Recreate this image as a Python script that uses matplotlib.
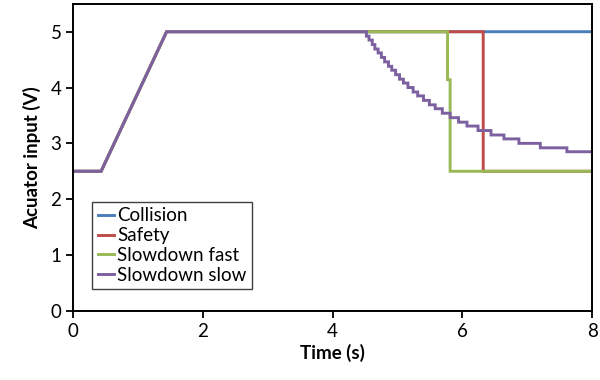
import matplotlib
matplotlib.use('Agg')
import matplotlib.pyplot as plt

# ── Data ───────────────────────────────────────
# common start: hold at 2.5 V, ramp up, hold at 5 V
ramp_t = [0.0, 0.43, 1.44]
ramp_v = [2.5, 2.5, 5.0]

collision_t = [4.48, 8.0]
collision_v = [5.0, 5.0]

safety_t = [4.48, 6.32, 6.32, 8.0]
safety_v = [5.0, 5.0, 2.5, 2.5]

fast_t = [4.48, 5.77, 5.77, 5.81, 5.81, 8.0]
fast_v = [5.0, 5.0, 4.14, 4.14, 2.5, 2.5]

# slowdown slow: staircase, time of each drop and the level after it
slow_step_t = [4.48, 4.52, 4.56, 4.61, 4.65, 4.70, 4.75, 4.80, 4.86, 4.91,
               4.97, 5.03, 5.09, 5.16, 5.24, 5.31, 5.40, 5.49, 5.58, 5.69,
               5.81, 5.94, 6.07, 6.24, 6.44, 6.64, 6.87, 7.20, 7.61]
slow_step_v = [5.00, 4.92, 4.85, 4.77, 4.69, 4.62, 4.54, 4.46, 4.38, 4.31,
               4.23, 4.15, 4.08, 4.00, 3.92, 3.85, 3.77, 3.69, 3.62, 3.54,
               3.46, 3.38, 3.31, 3.23, 3.15, 3.08, 3.00, 2.92, 2.85]

X_TICKS = [0, 2, 4, 6, 8]
Y_TICKS = [0, 1, 2, 3, 4, 5]

COLORS = {
    'Collision':     '#4a7ebb',
    'Safety':        '#be4b48',
    'Slowdown fast': '#98b954',
    'Slowdown slow': '#7d60a0',
}

plt.rcParams['font.family'] = ['Lato', 'DejaVu Sans']

fig = plt.figure(figsize=(6, 3.8), dpi=100)
ax = fig.add_axes([0.122, 0.182, 0.865, 0.808])

lw = 2.1

# staircase -> explicit x/y with vertical drops
slow_t = [slow_step_t[0]]
slow_v = [slow_step_v[0]]
for t, v in zip(slow_step_t[1:], slow_step_v[1:]):
    slow_t += [t, t]
    slow_v += [slow_v[-1], v]
slow_t.append(8.0)
slow_v.append(slow_step_v[-1])

series = [
    ('Collision',     ramp_t + collision_t, ramp_v + collision_v),
    ('Safety',        ramp_t + safety_t,    ramp_v + safety_v),
    ('Slowdown fast', ramp_t + fast_t,      ramp_v + fast_v),
    ('Slowdown slow', ramp_t + slow_t,      ramp_v + slow_v),
]
for name, t, v in series:
    ax.plot(t, v, color=COLORS[name], linewidth=lw, label=name,
            solid_joinstyle='miter')

ax.set_xlim(0, 8)
ax.set_ylim(0, 5.5)
ax.set_xticks(X_TICKS)
ax.set_yticks(Y_TICKS)
ax.tick_params(labelsize=13.5, width=1.3, length=5, direction='out')
for s in ax.spines.values():
    s.set_linewidth(1.4)

ax.set_xlabel('Time (s)', fontsize=13.5, fontweight='bold', labelpad=3)
ax.set_ylabel('Acuator input (V)', fontsize=13.5, fontweight='bold', labelpad=7)

leg = ax.legend(loc='lower left', bbox_to_anchor=(0.036, 0.07),
                fontsize=13.5, handlelength=0.9, handletextpad=0.15,
                labelspacing=0.15, borderpad=0.3, borderaxespad=0,
                fancybox=False, framealpha=1)
leg.get_frame().set_edgecolor('#404040')
leg.get_frame().set_linewidth(1.0)

fig.savefig('out.png', dpi=100)
